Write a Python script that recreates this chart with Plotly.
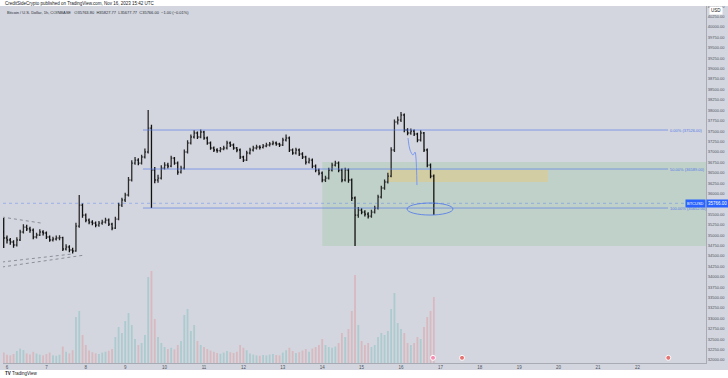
import plotly.graph_objects as go
import pandas as pd

# ---------------- data ----------------
candle_times = pd.date_range("2023-11-05 22:00", periods=132, freq="2h")

opens = [35076, 34932, 34884, 34836, 34764, 34884, 35076, 35196, 35150, 35124,
         34956, 35004, 35076, 35052, 34956, 34884, 34908, 34932, 34940, 34668,
         34716, 34644, 34620, 35220, 35724, 35484, 35364, 35316, 35292, 35244,
         35292, 35316, 35364, 35268, 35172, 35388, 35724, 35845, 35965, 36325,
         36733, 36805, 36733, 36878, 36998, 37574, 36565, 36325, 36373, 36613,
         36685, 36661, 36853, 36733, 36517, 36613, 36998, 37214, 37358, 37454,
         37358, 37478, 37334, 37214, 37094, 37046, 37030, 37070, 37094, 37214,
         37166, 37094, 37046, 36878, 36805, 36974, 37046, 37094, 37118, 37110,
         37142, 37166, 37190, 37214, 37190, 37166, 37286, 37334, 37046, 36974,
         37046, 36950, 36878, 36757, 36805, 36661, 36565, 36493, 36325, 36373,
         36565, 36685, 36733, 36565, 36325, 36565, 36325, 35893, 35484, 35604,
         35556, 35508, 35460, 35556, 35652, 35917, 36133, 36277, 36421, 37046,
         37719, 37767, 37887, 37526, 37454, 37502, 37430, 37286, 37454, 37046,
         36685, 36421]
closes = [34932, 34884, 34836, 34764, 34884, 35076, 35196, 35150, 35124, 34956,
          35004, 35076, 35052, 34956, 34884, 34908, 34932, 34940, 34668, 34716,
          34644, 34620, 35220, 35724, 35484, 35364, 35316, 35292, 35244, 35292,
          35316, 35364, 35268, 35172, 35388, 35724, 35845, 35965, 36325, 36733,
          36805, 36733, 36878, 36998, 37574, 36565, 36325, 36373, 36613, 36685,
          36661, 36853, 36733, 36517, 36613, 36998, 37214, 37358, 37454, 37358,
          37478, 37334, 37214, 37094, 37046, 37030, 37070, 37094, 37214, 37166,
          37094, 37046, 36878, 36805, 36974, 37046, 37094, 37118, 37110, 37142,
          37166, 37190, 37214, 37190, 37166, 37286, 37334, 37046, 36974, 37046,
          36950, 36878, 36757, 36805, 36661, 36565, 36493, 36325, 36373, 36565,
          36685, 36733, 36565, 36325, 36565, 36325, 35893, 35484, 35604, 35556,
          35508, 35460, 35556, 35652, 35917, 36133, 36277, 36421, 37046, 37719,
          37767, 37887, 37526, 37454, 37502, 37430, 37286, 37454, 37046, 36685,
          36421, 35766]
highs = [35412, 34990, 34930, 34880, 34950, 35130, 35260, 35250, 35200, 35160,
         35060, 35140, 35120, 35090, 34990, 34960, 34990, 35000, 34960, 34780,
         34760, 34700, 35300, 35965, 35760, 35520, 35400, 35360, 35330, 35340,
         35370, 35420, 35400, 35300, 35440, 35780, 35900, 36020, 36400, 36800,
         36880, 36850, 36930, 37080, 38007, 37650, 36640, 36450, 36680, 36750,
         36740, 36910, 36880, 36770, 36670, 37060, 37280, 37420, 37520, 37490,
         37540, 37510, 37370, 37250, 37130, 37090, 37120, 37150, 37270, 37250,
         37200, 37120, 37080, 36910, 37030, 37100, 37150, 37170, 37160, 37190,
         37220, 37240, 37270, 37250, 37220, 37340, 37420, 37370, 37080, 37100,
         37080, 36990, 36910, 36860, 36840, 36700, 36600, 36530, 36430, 36620,
         36740, 36790, 36770, 36600, 36620, 36600, 36360, 35930, 35680, 35650,
         35600, 35550, 35610, 35710, 35970, 36190, 36340, 36500, 37110, 37780,
         37850, 37959, 37920, 37570, 37560, 37540, 37460, 37520, 37480, 37080,
         36720, 36460]
lows = [34692, 34800, 34770, 34700, 34730, 34860, 35040, 35100, 35060, 34900,
        34920, 34980, 34990, 34910, 34840, 34850, 34870, 34880, 34620, 34630,
        34590, 34560, 34600, 35180, 35420, 35310, 35260, 35240, 35190, 35200,
        35250, 35280, 35220, 35120, 35150, 35360, 35680, 35800, 35930, 36290,
        36690, 36680, 36700, 36840, 36960, 35652, 36250, 36260, 36340, 36580,
        36600, 36630, 36690, 36450, 36480, 36580, 36960, 37180, 37320, 37310,
        37330, 37290, 37170, 37050, 37000, 36980, 36990, 37040, 37060, 37120,
        37050, 36990, 36830, 36760, 36780, 36940, 37010, 37060, 37060, 37080,
        37110, 37130, 37160, 37150, 37120, 37140, 37250, 37000, 36930, 36940,
        36900, 36830, 36700, 36720, 36610, 36510, 36440, 36270, 36280, 36340,
        36530, 36650, 36510, 36270, 36290, 36260, 35820, 34740, 35420, 35500,
        35450, 35400, 35420, 35520, 35620, 35880, 36090, 36240, 36390, 37000,
        37660, 37720, 37470, 37400, 37410, 37380, 37230, 37250, 37000, 36630,
        36370, 35484]
volumes = [520, 410, 380, 450, 600, 720, 650, 480, 430, 560,
           470, 420, 380, 450, 520, 390, 360, 410, 820, 560,
           480, 640, 2300, 2600, 1400, 900, 620, 540, 480, 450,
           520, 560, 610, 700, 1300, 1800, 1500, 2100, 2500, 1900,
           1200, 900, 1000, 1400, 4300, 4600, 2200, 1300, 1000, 800,
           700, 760, 680, 900, 1100, 2400, 2700, 1600, 1900, 1100,
           900, 800, 700, 620, 560, 500, 460, 520, 600, 540,
           500, 560, 900, 760, 640, 480, 420, 380, 360, 400,
           380, 420, 450, 400, 380, 520, 640, 760, 600, 500,
           540, 620, 700, 560, 720, 800, 900, 1200, 900, 800,
           760, 820, 1000, 1500, 1300, 1700, 2600, 4400, 1900, 1100,
           900, 1000, 800, 900, 1300, 1500, 1400, 1600, 2700, 3500,
           2000, 1700, 1500, 1000, 900, 1000, 1300, 1200, 1800, 2300,
           2600, 3300]

day_ticks = pd.date_range("2023-11-06", "2023-11-22", freq="D")
day_labels = [str(d.day) for d in day_ticks]
last_price = 35766.0
# the axis label right under the last-price tag is hidden, as in the reference
price_ticks = [v for v in range(32000, 40501, 250) if abs(v - last_price) > 120]
price_labels = [f"{v:.2f}" for v in price_ticks]

fib_names = ["0.00%", "50.00%", "100.00%"]
fib_levels = [37526.0, 36589.0, 35652.0]
fib_start = "2023-11-09 10:50"
fib_end = "2023-11-22 18:40"

zone_green = dict(x0="2023-11-14 00:00", x1="2023-11-23 18:00", y0=34740, y1=36758)
zone_tan = dict(x0="2023-11-15 16:05", x1="2023-11-19 17:30", y0=36277, y1=36565)
ellipse = dict(x0="2023-11-16 03:40", x1="2023-11-17 07:40", y0=35484, y1=35773)
brush_t = ["2023-11-16 04:16", "2023-11-16 05:30", "2023-11-16 07:20",
           "2023-11-16 08:32", "2023-11-16 09:07", "2023-11-16 09:43"]
brush_p = [37334, 37046, 36926, 36998, 36853, 36205]
tri_lines = [
    (("2023-11-05 21:00", 35436), ("2023-11-06 20:40", 35292)),
    (("2023-11-05 21:00", 34356), ("2023-11-07 15:36", 34548)),
    (("2023-11-05 21:00", 34236), ("2023-11-07 23:30", 34524)),
]
event_times = ["2023-11-16 19:30", "2023-11-17 13:10", "2023-11-22 18:50"]
event_colors = ["#f48fb1", "#e57373", "#e57373"]

BG = "#d3d6de"
BLUE = "rgba(84,120,232,0.8)"

# ---------------- figure ----------------
fig = go.Figure()

vol_colors = ["rgba(38,166,154,0.22)" if c >= o else "rgba(239,83,80,0.22)"
              for o, c in zip(opens, closes)]
fig.add_trace(go.Bar(x=candle_times, y=volumes, marker_color=vol_colors,
                     marker_line_width=0, yaxis="y2", showlegend=False,
                     hoverinfo="skip"))

fig.add_trace(go.Ohlc(
    x=candle_times, open=opens, high=highs, low=lows, close=closes,
    increasing=dict(line=dict(color="#2b2b2b", width=1.3)),
    decreasing=dict(line=dict(color="#111111", width=1.3)),
    tickwidth=0.35, showlegend=False))

fig.add_trace(go.Scatter(x=brush_t, y=brush_p, mode="lines",
                         line=dict(color="#7b98f0", width=1, shape="spline"),
                         showlegend=False, hoverinfo="skip"))

fig.add_trace(go.Scatter(x=event_times, y=[260, 260, 260], yaxis="y2",
                         mode="markers",
                         marker=dict(size=5, color=event_colors,
                                     line=dict(color="#ffffff", width=1)),
                         showlegend=False, hoverinfo="skip"))

shapes = []
shapes.append(dict(type="rect", xref="x", yref="y", layer="below",
                   fillcolor="rgba(120,190,120,0.2)", line=dict(width=0),
                   **zone_green))
shapes.append(dict(type="rect", xref="x", yref="y", layer="below",
                   fillcolor="rgba(235,200,110,0.42)", line=dict(width=0),
                   **zone_tan))
for lv in fib_levels:
    shapes.append(dict(type="line", xref="x", yref="y", x0=fib_start, x1=fib_end,
                       y0=lv, y1=lv, line=dict(color=BLUE, width=0.8)))
shapes.append(dict(type="circle", xref="x", yref="y",
                   line=dict(color="#5a7fe6", width=0.9), **ellipse))
for (a, b) in tri_lines:
    shapes.append(dict(type="line", xref="x", yref="y", x0=a[0], y0=a[1],
                       x1=b[0], y1=b[1],
                       line=dict(color="#787b86", width=0.8, dash="dot")))
shapes.append(dict(type="line", xref="paper", yref="y", x0=0, x1=1,
                   y0=last_price, y1=last_price,
                   line=dict(color="rgba(41,98,255,0.4)", width=0.8, dash="dot")))
# white strips (top and bottom)
shapes.append(dict(type="rect", xref="paper", yref="paper", x0=-0.01, x1=1.04,
                   y0=1.0, y1=1.03, fillcolor="#ffffff", line=dict(width=0)))
shapes.append(dict(type="rect", xref="paper", yref="paper", x0=-0.01, x1=1.04,
                   y0=-0.05, y1=-7 / 357, fillcolor="#ffffff", line=dict(width=0)))

annotations = []
for name, lv in zip(fib_names, fib_levels):
    annotations.append(dict(x=fib_end, y=lv, xref="x", yref="y", xanchor="left",
                            yanchor="middle", showarrow=False,
                            text=f"{name} ({lv:.2f})",
                            font=dict(size=4, color="#5478e8")))
annotations.append(dict(x=1, y=last_price, xref="paper", yref="y", xanchor="left",
                        yanchor="middle", showarrow=False, text=f"{last_price:.2f}",
                        bgcolor="#2962ff", borderpad=1,
                        font=dict(size=4.5, color="#ffffff")))
annotations.append(dict(x=1, y=last_price, xref="paper", yref="y", xanchor="right",
                        yanchor="middle", showarrow=False, text="BTCUSD",
                        bgcolor="#2962ff", borderpad=1,
                        font=dict(size=4, color="#ffffff")))
annotations.append(dict(x=1.004, y=1 - 5 / 357, xref="paper", yref="paper",
                        xanchor="left", yanchor="middle", showarrow=False,
                        text="USD", bgcolor="#ffffff", borderpad=1,
                        font=dict(size=4.5, color="#131722")))
annotations.append(dict(x=0, y=1 + 3 / 357, xref="paper", yref="paper",
                        xanchor="left", yanchor="middle", showarrow=False,
                        text="CreditSideCrypto published on TradingView.com, Nov 16, 2023 15:42 UTC",
                        font=dict(size=4.5, color="#131722")))
annotations.append(dict(x=0.003, y=1 - 6 / 357, xref="paper", yref="paper",
                        xanchor="left", yanchor="middle", showarrow=False,
                        text="Bitcoin / U.S. Dollar, 1h, COINBASE   O35763.80  H35827.77  L35677.77  C35766.00  −1.00 (−0.01%)",
                        font=dict(size=4, color="#2a2e39")))
annotations.append(dict(x=0, y=-11 / 357, xref="paper", yref="paper",
                        xanchor="left", yanchor="middle", showarrow=False,
                        text="<b>TV</b> TradingView",
                        font=dict(size=4.5, color="#131722")))

fig.update_layout(
    width=728, height=378,
    margin=dict(l=3, r=22, t=6, b=15),
    paper_bgcolor=BG, plot_bgcolor=BG,
    template="none",
    font=dict(family="Liberation Sans, Arial, sans-serif", color="#50535e"),
    bargap=0.45,
    shapes=shapes, annotations=annotations,
    xaxis=dict(type="date", range=["2023-11-05 21:34", "2023-11-23 17:47"],
               rangeslider=dict(visible=False), showgrid=False, zeroline=False,
               tickvals=list(day_ticks), ticktext=day_labels, ticks="",
               tickfont=dict(size=4.5, color="#50535e"),
               showline=True, linecolor="#a8abb4", linewidth=1, automargin=False),
    yaxis=dict(range=[31930, 40505], side="right", showgrid=False, zeroline=False,
               tickvals=price_ticks, ticktext=price_labels, ticks="",
               tickfont=dict(size=4, color="#50535e"),
               showline=True, linecolor="#a8abb4", linewidth=1, automargin=False),
    yaxis2=dict(range=[0, 17850], overlaying="y", visible=False, fixedrange=True),
)

fig.write_html("out.html")
